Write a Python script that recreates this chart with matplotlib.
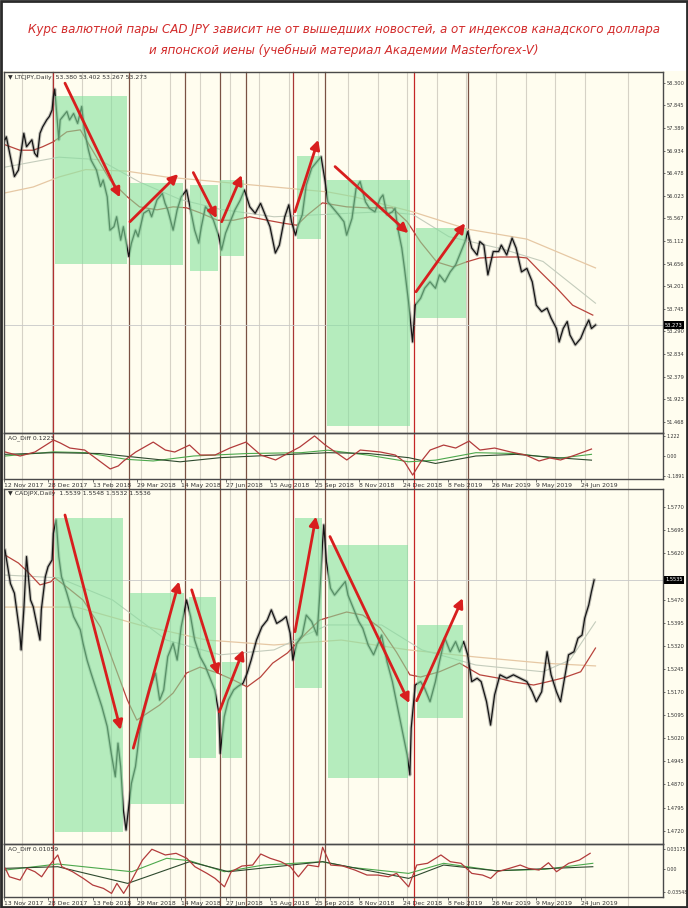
import matplotlib
matplotlib.use('Agg')
import matplotlib.pyplot as plt
import matplotlib.transforms as mtransforms
from matplotlib.lines import Line2D
from matplotlib.patches import Rectangle

plt.rcParams['font.family'] = ['DejaVu Sans']

# ---- data (x = bar number, y = price / indicator) ----
title1 = 'Курс валютной пары CAD JPY зависит не от вышедших новостей, а от индексов канадского доллара'
title2 = 'и японской иены (учебный материал Академии Masterforex-V)'

top_header = '\u25bc LTCJPY,Daily  53.380 53.402 53.267 53.273'
bot_header = '\u25bc CADJPX,Daily  1.5539 1.5548 1.5532 1.5536'
top_ind_name = 'AO_Diff 0.1223'
bot_ind_name = 'AO_Diff 0.01059'

top_dates = ['12 Nov 2017', '28 Dec 2017', '13 Feb 2018', '29 Mar 2018', '14 May 2018', '27 Jun 2018',
             '15 Aug 2018', '25 Sep 2018', '8 Nov 2018', '24 Dec 2018', '8 Feb 2019', '26 Mar 2019',
             '9 May 2019', '24 Jun 2019']
bot_dates = ['13 Nov 2017'] + top_dates[1:]

top_ticks = [58.300, 57.845, 57.389, 56.934, 56.478, 56.023, 55.567, 55.112, 54.656, 54.201,
             53.745, 53.290, 52.834, 52.379, 51.923, 51.468]
bot_ticks = [1.5770, 1.5695, 1.5620, 1.5470, 1.5395, 1.5320, 1.5245, 1.5170, 1.5095,
             1.5020, 1.4945, 1.4870, 1.4795, 1.4720]
top_ind_ticks = [1.222, 0.0, -1.1891]
top_ind_labels = ['1.222', '0.00', '-1.1891']
bot_ind_ticks = [0.03175, 0.0, -0.03548]
bot_ind_labels = ['0.03175', '0.00', '-0.03548']

top_x = [0, 1, 7, 10, 14, 16, 20, 22, 24, 26, 28, 31, 33, 35, 36, 37, 40, 41, 46, 48,
         51, 54, 57, 59, 62, 64, 68, 71, 73, 76, 78, 81, 83, 86, 88, 92, 94, 97, 99, 103,
         107, 109, 113, 117, 119, 121, 125, 128, 131, 135, 138, 141, 144, 146, 149, 151, 155, 159, 161, 164,
         167, 171, 175, 178, 182, 186, 190, 193, 197, 201, 204, 208, 211, 213, 216, 218, 221, 224, 228, 232,
         235, 238, 240, 244, 248, 252, 254, 258, 261, 264, 268, 271, 275, 279, 281, 284, 288, 290, 292, 295,
         297, 300, 302, 303, 305, 309, 312, 316, 320, 323, 327, 331, 335, 338, 342, 344, 347, 351, 353, 356,
         359, 363, 367, 369, 373, 377, 380, 384, 388, 392, 395, 399, 403, 406, 410, 412, 415, 418, 420, 424,
         428, 431, 434, 436, 439]
top_close = [57.15, 57.21, 56.41, 56.54, 57.28, 57.01, 57.15, 56.88, 56.81, 57.28, 57.41, 57.55, 57.62, 57.75, 58.02, 58.17, 57.15, 57.55, 57.72, 57.55,
             57.68, 57.48, 57.82, 57.35, 56.95, 56.74, 56.54, 56.21, 56.34, 56.00, 55.33, 55.40, 55.60, 55.13, 55.40, 54.80, 55.07, 55.33, 55.20, 55.67,
             55.74, 55.60, 55.94, 56.07, 55.87, 55.74, 55.33, 55.74, 56.00, 56.14, 55.74, 55.33, 55.07, 55.40, 55.80, 55.74, 55.53, 55.20, 54.93, 55.27,
             55.47, 55.74, 55.94, 56.14, 55.80, 55.67, 55.87, 55.67, 55.40, 54.87, 55.03, 55.60, 55.84, 55.50, 55.23, 55.43, 55.64, 56.24, 56.58, 56.71,
             56.81, 56.31, 55.90, 55.77, 55.64, 55.50, 55.23, 55.57, 56.17, 56.31, 55.90, 55.77, 55.70, 55.97, 56.04, 55.64, 55.70, 55.77, 55.37, 54.97,
             54.56, 53.89, 53.35, 53.08, 53.82, 53.96, 54.16, 54.29, 54.16, 54.43, 54.29, 54.49, 54.63, 54.83, 55.10, 55.30, 54.97, 54.83, 55.10, 55.03,
             54.43, 54.90, 54.90, 55.03, 54.83, 55.17, 54.97, 54.49, 54.56, 54.29, 53.82, 53.69, 53.76, 53.56, 53.35, 53.08, 53.35, 53.49, 53.22, 53.02,
             53.15, 53.35, 53.52, 53.35, 53.42]
top_last_label = '53.273'

top_ma_red_x = [0, 11, 21, 28, 36, 46, 56, 65, 78, 91, 100, 113, 125, 135, 145, 158, 170, 182, 195, 207,
                217, 225, 236, 254, 269, 288, 299, 309, 321, 333, 343, 353, 368, 381, 388, 398, 410, 422, 437]
top_ma_red = [57.05, 56.94, 56.94, 57.01, 57.11, 57.31, 57.35, 56.94, 56.34, 56.00, 55.80, 55.74, 55.80, 55.78, 55.68, 55.53, 55.53, 55.60, 55.53, 55.47,
              55.43, 55.64, 55.88, 55.80, 55.78, 55.78, 55.50, 55.09, 54.69, 54.59, 54.69, 54.77, 54.79, 54.79, 54.77, 54.49, 54.17, 53.82, 53.62]
top_ma_tan_x = [0, 21, 40, 60, 90, 120, 160, 200, 240, 260, 303, 344, 388, 439]
top_ma_tan = [56.08, 56.20, 56.40, 56.55, 56.52, 56.40, 56.30, 56.20, 56.10, 56.00, 55.70, 55.35, 55.15, 54.57]
top_ma_gray_x = [0, 40, 70, 100, 130, 160, 200, 240, 280, 303, 330, 370, 400, 439]
top_ma_gray = [56.60, 56.80, 56.75, 56.30, 55.95, 55.75, 55.60, 55.65, 55.70, 55.65, 55.20, 54.95, 54.70, 53.86]

bot_x = [0, 4, 7, 11, 12, 14, 16, 19, 21, 24, 26, 27, 30, 32, 35, 36, 38, 40, 42, 46,
         51, 56, 58, 61, 64, 68, 72, 76, 79, 82, 84, 86, 88, 90, 92, 94, 97, 100, 104, 108,
         112, 115, 118, 121, 125, 128, 131, 135, 138, 141, 145, 149, 152, 156, 159, 160, 163, 166, 170, 173,
         177, 180, 183, 187, 191, 195, 198, 202, 206, 209, 212, 214, 217, 221, 224, 228, 232, 234, 236, 237,
         239, 242, 245, 249, 253, 255, 259, 263, 266, 270, 274, 278, 280, 284, 288, 291, 295, 299, 301, 302,
         305, 309, 312, 316, 320, 323, 327, 331, 335, 338, 341, 344, 347, 351, 354, 358, 361, 364, 368, 373,
         378, 383, 388, 392, 395, 399, 403, 406, 410, 413, 416, 419, 423, 426, 429, 431, 434, 436, 438]
bot_close = [1.5631, 1.5523, 1.5491, 1.5361, 1.5307, 1.5437, 1.5610, 1.5469, 1.5447, 1.5382,
             1.5339, 1.5437, 1.5545, 1.5577, 1.5599, 1.5686, 1.5729, 1.5610, 1.5545, 1.5491,
             1.5415, 1.5372, 1.5329, 1.5274, 1.5231, 1.5177, 1.5123, 1.5058, 1.4971, 1.4895,
             1.5004, 1.4928, 1.4787, 1.4722, 1.4798, 1.4874, 1.4928, 1.5036, 1.5123, 1.5188,
             1.5231, 1.5144, 1.5177, 1.5285, 1.5329, 1.5274, 1.5382, 1.5469, 1.5415, 1.5339,
             1.5285, 1.5253, 1.5220, 1.5177, 1.5101, 1.4971, 1.5090, 1.5144, 1.5177, 1.5188,
             1.5199, 1.5231, 1.5274, 1.5339, 1.5382, 1.5404, 1.5437, 1.5393, 1.5404, 1.5415,
             1.5361, 1.5274, 1.5329, 1.5355, 1.5420, 1.5399, 1.5355, 1.5485, 1.5648, 1.5713,
             1.5593, 1.5507, 1.5485, 1.5507, 1.5529, 1.5485, 1.5442, 1.5399, 1.5377, 1.5323,
             1.5291, 1.5334, 1.5355, 1.5269, 1.5204, 1.5139, 1.5053, 1.4966, 1.4901, 1.5053,
             1.5193, 1.5204, 1.5182, 1.5139, 1.5204, 1.5269, 1.5345, 1.5301, 1.5334, 1.5301,
             1.5334, 1.5291, 1.5204, 1.5215, 1.5204, 1.5139, 1.5063, 1.5161, 1.5226, 1.5215,
             1.5226, 1.5215, 1.5204, 1.5171, 1.5139, 1.5171, 1.5301, 1.5226, 1.5171, 1.5139,
             1.5215, 1.5291, 1.5301, 1.5345, 1.5355, 1.5410, 1.5453, 1.5496, 1.5534]
bot_last_label = '1.5535'

bot_ma_red_x = [0, 10, 17, 26, 34, 37, 46, 58, 71, 80, 91, 98, 106, 115, 125, 135, 145, 158, 170, 180,
                190, 199, 210, 224, 234, 254, 266, 279, 291, 301, 309, 323, 338, 353, 366, 378, 393, 403, 415, 428, 439]
bot_ma_red = [1.5615, 1.5589, 1.5560, 1.5518, 1.5528, 1.5541, 1.5511, 1.5469, 1.5381, 1.5274,
              1.5144, 1.5079, 1.5102, 1.5128, 1.5167, 1.5232, 1.5251, 1.5232, 1.5209, 1.5187,
              1.5219, 1.5264, 1.5297, 1.5362, 1.5404, 1.5430, 1.5420, 1.5378, 1.5300, 1.5226,
              1.5219, 1.5236, 1.5264, 1.5226, 1.5216, 1.5203, 1.5193, 1.5203, 1.5216, 1.5236, 1.5313]
bot_ma_tan_x = [0, 53, 100, 150, 200, 250, 300, 350, 400, 439]
bot_ma_tan = [1.5446, 1.5446, 1.5388, 1.5339, 1.5323, 1.5339, 1.5307, 1.5284, 1.5264, 1.5255]
bot_ma_gray_x = [0, 40, 80, 120, 160, 200, 240, 280, 310, 350, 400, 420, 439]
bot_ma_gray = [1.5550, 1.5541, 1.5469, 1.5339, 1.5291, 1.5307, 1.5388, 1.5388, 1.5307, 1.5258, 1.5236, 1.5274, 1.5398]

top_ao_x = [0, 11, 22, 36, 41, 48, 59, 71, 78, 84, 88, 97, 110, 119, 126, 137, 145, 156, 167, 179,
            190, 201, 212, 219, 230, 238, 254, 264, 279, 290, 297, 303, 309, 316, 326, 335, 345, 353, 364, 376,
            387, 397, 405, 413, 424, 436]
top_ao = [0.24, 0.0, 0.24, 0.96, 0.78, 0.48, 0.36, -0.36, -0.78, -0.60, -0.30, 0.24, 0.84, 0.36, 0.24, 0.66, 0.06, 0.06, 0.48, 0.84,
          0.06, -0.24, 0.24, 0.54, 1.21, 0.66, -0.24, 0.36, 0.24, 0.06, -0.36, -1.15, -0.36, 0.36, 0.66, 0.48, 0.90, 0.36, 0.48, 0.24,
          0.06, -0.30, -0.12, -0.24, 0.06, 0.42]
top_sig1_x = [0, 36, 60, 90, 110, 140, 180, 220, 240, 270, 300, 320, 350, 380, 410, 436]
top_sig1 = [0.0, 0.25, 0.2, -0.2, -0.3, 0.0, 0.15, 0.2, 0.35, 0.05, -0.35, -0.25, 0.2, 0.15, -0.15, 0.1]
top_sig2_x = [0, 36, 70, 100, 130, 160, 200, 240, 270, 300, 320, 350, 380, 410, 436]
top_sig2 = [0.1, 0.2, 0.15, -0.1, -0.35, -0.1, 0.05, 0.2, 0.15, -0.1, -0.45, 0.0, 0.1, -0.1, -0.25]

bot_ao_x = [0, 3, 11, 16, 22, 27, 32, 39, 42, 50, 58, 65, 73, 79, 83, 88, 94, 102, 109, 119,
            127, 135, 141, 150, 156, 163, 168, 176, 184, 190, 197, 205, 212, 218, 225, 233, 236, 242, 251, 260,
            269, 277, 285, 291, 300, 306, 314, 324, 331, 339, 347, 355, 361, 366, 375, 383, 389, 397, 404, 410,
            419, 427, 435]
bot_ao = [0.0016, -0.0116, -0.0167, 0.0016, -0.0037, -0.0116, 0.0041, 0.0224, 0.0041, -0.0037,
          -0.0141, -0.0245, -0.0297, -0.0375, -0.0219, -0.0375, -0.0167, 0.0145, 0.0313, 0.0224,
          0.0250, 0.0172, 0.0041, -0.0063, -0.0141, -0.0272, -0.0037, 0.0052, 0.0067, 0.0239,
          0.0172, 0.0119, 0.0041, -0.0116, 0.0067, 0.0041, 0.0344, 0.0067, 0.0052, -0.0011,
          -0.0089, -0.0089, -0.0116, -0.0063, -0.0272, 0.0067, 0.0094, 0.0224, 0.0119, 0.0094,
          -0.0063, -0.0089, -0.0141, -0.0037, 0.0016, 0.0067, 0.0016, -0.0011, 0.0103, -0.0037,
          0.0094, 0.0145, 0.0250]
bot_sig1_x = [0, 39, 94, 120, 137, 163, 192, 236, 257, 300, 326, 365, 401, 437]
bot_sig1 = [-0.0011, 0.0083, -0.0037, 0.0172, 0.0135, -0.0037, 0.0067, 0.0119, 0.0031, -0.0063, 0.0094, -0.0022, 0.0, 0.0094]
bot_sig2_x = [0, 39, 91, 137, 166, 236, 300, 326, 365, 437]
bot_sig2 = [0.0016, 0.0041, -0.0219, 0.0119, -0.0037, 0.0119, -0.0141, 0.0067, -0.0022, 0.0041]

# green zones: (first bar, last bar, low, high)
top_boxes = [(37.2, 90.7, 54.65, 58.03), (92.9, 132.3, 54.63, 56.28), (137.5, 158.4, 54.51, 56.24),
             (159.9, 177.7, 54.81, 56.34), (217.1, 234.9, 55.15, 56.82), (239.4, 301.1, 51.39, 56.34),
             (305.6, 342.8, 53.56, 55.37)]
bot_boxes = [(37.2, 87.7, 1.4716, 1.5735), (92.9, 133.1, 1.4807, 1.5492), (136.8, 156.9, 1.4956, 1.5479),
             (161.3, 176.2, 1.4956, 1.5268), (215.6, 235.7, 1.5183, 1.5735), (240.1, 299.6, 1.4891, 1.5648),
             (306.3, 340.5, 1.5086, 1.5388)]

# red arrows: (bar from, price from, bar to, price to)
top_arrows = [(44.6, 58.29, 85.5, 55.99), (92.9, 55.50, 128.8, 56.46), (140.0, 56.49, 157.4, 55.57),
              (161.1, 55.50, 176.0, 56.44), (215.6, 55.70, 232.9, 57.15), (245.4, 56.61, 299.9, 55.27),
              (305.6, 54.09, 342.0, 55.47)]
bot_arrows = [(44.6, 1.5745, 86.0, 1.5047), (95.4, 1.4988, 129.4, 1.5529), (138.8, 1.5502, 158.6, 1.5226),
              (159.3, 1.5106, 177.2, 1.5307), (215.6, 1.5366, 231.2, 1.5740), (241.6, 1.5675, 300.6, 1.5134),
              (306.1, 1.5142, 340.3, 1.5475)]

# vertical marker lines (bar numbers)
mark_bars = [36, 92, 134, 160, 179, 214, 238, 304, 344]
mark_colors = ['#B03030', '#7A5244', '#7A5244', '#7A5244', '#7A5244', '#A83636', '#7A5244', '#C42626', '#7A5244']

# ---- layout ----
W, H = 688, 908
XMIN, XMAX = -0.74, 489.2
CREAM = '#FFFDEF'

fig = plt.figure(figsize=(W / 100, H / 100), dpi=100, facecolor='white')


def px_box(x0, y0, x1, y1):
    return [x0 / W, 1 - y1 / H, (x1 - x0) / W, (y1 - y0) / H]


fig.patches.append(Rectangle((0, 0), 1, 1 - 71 / H, transform=fig.transFigure,
                             facecolor=CREAM, edgecolor='none', zorder=-3))
fig.patches.append(Rectangle((0.001, 0.001), 0.998, 0.998, transform=fig.transFigure,
                             fill=False, edgecolor='#2A2A2A', lw=2.0, zorder=5))

fig.text(0.5, 1 - 30 / H, title1, ha='center', va='center', fontsize=8.6, style='italic', color='#D22A2A')
fig.text(0.5, 1 - 50 / H, title2, ha='center', va='center', fontsize=8.6, style='italic', color='#D22A2A')

ax_tp = fig.add_axes(px_box(4, 72, 663, 433))
ax_ti = fig.add_axes(px_box(4, 433, 663, 479))
ax_bp = fig.add_axes(px_box(4, 489, 663, 844))
ax_bi = fig.add_axes(px_box(4, 844, 663, 897))

FS = 4.4
FSY = 3.7


def setup(ax, ylim, fsy=FSY):
    ax.set_facecolor('none')
    ax.set_xlim(XMIN, XMAX)
    ax.set_ylim(*ylim)
    for s in ax.spines.values():
        s.set_color('#4A4A4A')
        s.set_linewidth(1.0)
    ax.yaxis.tick_right()
    ax.tick_params(axis='y', labelsize=fsy, length=1.5, width=0.5, pad=1.0, colors='#333333')
    ax.set_xticks([])


setup(ax_tp, (51.246, 58.515))
setup(ax_ti, (-1.387, 1.387), 3.4)
setup(ax_bp, (1.46768, 1.58294))
setup(ax_bi, (-0.0431, 0.0395), 3.4)

ax_tp.set_yticks(top_ticks)
ax_tp.set_yticklabels(['%.3f' % v for v in top_ticks])
ax_bp.set_yticks(bot_ticks)
ax_bp.set_yticklabels(['%.4f' % v for v in bot_ticks])
ax_ti.set_yticks(top_ind_ticks)
ax_ti.set_yticklabels(top_ind_labels)
ax_bi.set_yticks(bot_ind_ticks)
ax_bi.set_yticklabels(bot_ind_labels)

for ax, dates in ((ax_ti, top_dates), (ax_bi, bot_dates)):
    pos = [33 * i - 1 for i in range(len(dates))]
    ax.set_xticks(pos)
    ax.set_xticklabels(dates)
    ax.tick_params(axis='x', labelsize=FS, length=2, width=0.5, pad=1.2, colors='#333333')
    for lab in ax.get_xticklabels():
        lab.set_ha('left')

# vertical grid and marker lines across both charts
blend = mtransforms.blended_transform_factory(ax_tp.transData, fig.transFigure)
grid_bars = [13 + 22 * k for k in range(20)] + [463]
for b in grid_bars:
    fig.add_artist(Line2D([b, b], [1 - 907 / H, 1 - 72 / H], transform=blend,
                          color='#D6D2C6', lw=0.8, zorder=-2))
for b, c in zip(mark_bars, mark_colors):
    fig.add_artist(Line2D([b, b], [1 - 906 / H, 1 - 72 / H], transform=blend,
                          color=c, lw=0.9, zorder=-1))


def price_panel(ax, xs, close, mas, boxes, arrows, header, last_label):
    ax.axhline(close[-1], color='#C8C8C8', lw=0.6, zorder=1)
    for mx, my, col, lw in mas:
        ax.plot(mx, my, color=col, lw=lw, zorder=2)
    ax.plot(xs, close, color='#505050', lw=2.4, alpha=0.35, zorder=3)
    ax.plot(xs, close, color='#151515', lw=0.9, zorder=3)
    for b0, b1, lo, hi in boxes:
        ax.add_patch(Rectangle((b0, lo), b1 - b0, hi - lo, facecolor='#84E19D',
                               edgecolor='none', alpha=0.6, zorder=4))
    for b0, p0, b1, p1 in arrows:
        ax.annotate('', xy=(b1, p1), xytext=(b0, p0), zorder=6,
                    arrowprops=dict(arrowstyle='-|>,head_length=0.55,head_width=0.28',
                                    color='#D81E1E', lw=2.0, shrinkA=0, shrinkB=0))
    ax.text(0.006, 0.993, header, transform=ax.transAxes, ha='left', va='top',
            fontsize=FS, color='#303030')
    tr = mtransforms.blended_transform_factory(ax.transAxes, ax.transData)
    ax.text(1.003, close[-1], last_label, transform=tr, ha='left', va='center', fontsize=FSY,
            color='white', clip_on=False, zorder=10,
            bbox=dict(facecolor='black', edgecolor='none', pad=0.8))


price_panel(ax_tp, top_x, top_close,
            [(top_ma_tan_x, top_ma_tan, '#E6C8A4', 0.9),
             (top_ma_gray_x, top_ma_gray, '#C4CCBC', 0.8),
             (top_ma_red_x, top_ma_red, '#B8443C', 0.9)],
            top_boxes, top_arrows, top_header, top_last_label)
price_panel(ax_bp, bot_x, bot_close,
            [(bot_ma_tan_x, bot_ma_tan, '#E6C8A4', 0.9),
             (bot_ma_gray_x, bot_ma_gray, '#C4CCBC', 0.8),
             (bot_ma_red_x, bot_ma_red, '#B8443C', 0.9)],
            bot_boxes, bot_arrows, bot_header, bot_last_label)


def ind_panel(ax, ao_x, ao, s1x, s1, s2x, s2, name):
    ax.plot(s1x, s1, color='#4CA84C', lw=0.8, zorder=2)
    ax.plot(s2x, s2, color='#2E4A2E', lw=0.8, zorder=2)
    ax.plot(ao_x, ao, color='#B23B3B', lw=0.9, zorder=3)
    ax.text(0.006, 0.95, name, transform=ax.transAxes, ha='left', va='top',
            fontsize=FS, color='#303030')


ind_panel(ax_ti, top_ao_x, top_ao, top_sig1_x, top_sig1, top_sig2_x, top_sig2, top_ind_name)
ind_panel(ax_bi, bot_ao_x, bot_ao, bot_sig1_x, bot_sig1, bot_sig2_x, bot_sig2, bot_ind_name)

fig.savefig('out.png', dpi=100, facecolor=fig.get_facecolor())
